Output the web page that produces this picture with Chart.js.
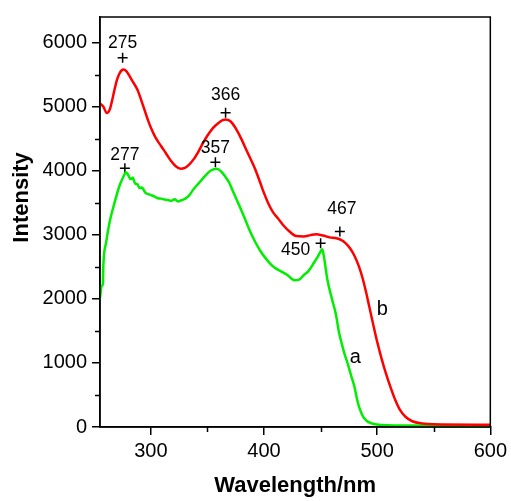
<!DOCTYPE html>
<html>
<head>
<meta charset="utf-8">
<script src="https://cdn.jsdelivr.net/npm/chart.js@4/dist/chart.umd.min.js"></script>
<style>
  html, body { margin: 0; padding: 0; background: #ffffff; }
  #wrap { width: 511px; height: 501px; position: relative; }
</style>
</head>
<body>
<div id="wrap"><canvas id="c"></canvas></div>
<script>
// ---- Data ----
// Curve a (green)
const wavelengthA = [255, 256.5, 257.5, 258, 260.5, 263.5, 268, 272.3, 275, 278, 280, 282, 284, 286, 288, 290, 292, 295, 297, 300, 303, 306, 309, 312, 315, 318, 321, 324, 327, 330, 334, 338, 342, 346, 350, 353, 358, 362, 366, 369, 372, 376, 380, 383, 387, 392, 397, 402, 406, 410, 415, 420, 424, 427, 431, 435, 439, 444, 447.5, 450, 451.5, 453, 456, 460, 463.5, 466, 468, 471, 474, 477, 480, 482, 484, 486.5, 488.5, 492, 497, 505, 520, 600];
const intensityA = [2017, 2200, 2230, 2540, 2890, 3200, 3510, 3770, 3880, 3975, 3930, 3870, 3890, 3800, 3790, 3730, 3740, 3660, 3640, 3620, 3600, 3570, 3565, 3550, 3545, 3530, 3555, 3520, 3540, 3560, 3620, 3720, 3800, 3880, 3960, 4004, 4030, 3990, 3900, 3820, 3700, 3540, 3380, 3255, 3080, 2895, 2740, 2620, 2540, 2480, 2430, 2380, 2320, 2290, 2300, 2370, 2430, 2560, 2660, 2740, 2775, 2650, 2300, 2000, 1760, 1500, 1347, 1150, 986, 800, 620, 450, 314, 200, 135, 80, 46, 30, 22, 20];
// Curve b (red)
const wavelengthB = [255, 258, 261, 263.5, 266, 268, 270, 272, 274, 276, 278, 280, 283, 288, 293, 297, 300, 304, 308.8, 313, 317.5, 322, 326.3, 330, 334, 338, 342, 346, 350, 355, 360, 363, 366, 369, 372, 375, 380, 385, 392, 396.4, 400, 404, 408, 412.4, 417, 422, 428.5, 435, 441, 446, 452, 458, 464, 468, 472, 476, 480, 484, 487, 490, 493, 496, 500, 504, 508, 512, 516, 520, 525, 531, 540, 550, 600];
const intensityB = [5050, 5000, 4900, 4950, 5120, 5280, 5420, 5510, 5565, 5580, 5560, 5510, 5420, 5267, 5020, 4810, 4670, 4520, 4390, 4280, 4160, 4070, 4030, 4045, 4100, 4185, 4300, 4430, 4550, 4670, 4750, 4785, 4800, 4785, 4740, 4660, 4494, 4300, 4030, 3824, 3650, 3480, 3350, 3255, 3150, 3060, 2980, 2975, 2995, 3008, 2990, 2960, 2945, 2920, 2870, 2790, 2670, 2500, 2330, 2120, 1880, 1640, 1330, 1060, 820, 610, 420, 270, 160, 90, 55, 42, 35];

// Peak markers (+) and their labels
const peakLabels = ['275', '366', '277', '357', '450', '467'];
const peakX = [275, 366, 277, 357, 450, 467];
const peakY = [5763, 4907, 4040, 4133, 2868, 3050];

// Curve names
const curveNames = ['a', 'b'];
const curveNameX = [480.7, 504.5];
const curveNameY = [1080, 1840];

// Axis ticks
const xTicks = [300, 400, 500, 600];
const yTicks = [0, 1000, 2000, 3000, 4000, 5000, 6000];
const xMinorTicks = [350, 450, 550];
const yMinorTicks = [500, 1500, 2500, 3500, 4500, 5500];

// Axis titles
const xTitle = 'Wavelength/nm';
const yTitle = 'Intensity';

// ---- Chart ----
const FONT = '"Liberation Sans", Arial, Helvetica, sans-serif';
const toPts = (xs, ys) => xs.map((x, i) => ({ x: x, y: ys[i] }));

const labelOffsets = [[0, -15], [0, -17], [0, -13], [0, -14], [-25, 7], [2, -22]];

const decorPlugin = {
  id: 'decor',
  afterDatasetsDraw(chart) {
    const { ctx, chartArea: a, scales: { x, y } } = chart;
    ctx.save();
    // frame
    ctx.strokeStyle = '#000';
    ctx.lineWidth = 1.5;
    ctx.strokeRect(a.left, a.top, a.right - a.left, a.bottom - a.top);
    // minor ticks
    ctx.beginPath();
    xMinorTicks.forEach(v => {
      const px = Math.round(x.getPixelForValue(v)) + 0.5;
      ctx.moveTo(px, a.bottom);
      ctx.lineTo(px, a.bottom + 5);
    });
    yMinorTicks.forEach(v => {
      const py = Math.round(y.getPixelForValue(v)) + 0.5;
      ctx.moveTo(a.left, py);
      ctx.lineTo(a.left - 5, py);
    });
    ctx.stroke();
    // peak labels
    ctx.fillStyle = '#000';
    ctx.font = '17.5px ' + FONT;
    ctx.textAlign = 'center';
    ctx.textBaseline = 'middle';
    peakLabels.forEach((t, i) => {
      const px = x.getPixelForValue(peakX[i]);
      const py = y.getPixelForValue(peakY[i]);
      ctx.fillText(t, px + labelOffsets[i][0], py + labelOffsets[i][1]);
    });
    // curve names
    ctx.font = '20px ' + FONT;
    curveNames.forEach((t, i) => {
      ctx.fillText(t, x.getPixelForValue(curveNameX[i]), y.getPixelForValue(curveNameY[i]));
    });
    // y axis title (placed slightly above the centre, as in the original)
    ctx.font = 'bold 22px ' + FONT;
    ctx.translate(22, a.top + (a.bottom - a.top) * 0.44);
    ctx.rotate(-Math.PI / 2);
    ctx.fillText(yTitle, 0, 0);
    ctx.restore();
  }
};

new Chart(document.getElementById('c'), {
  type: 'line',
  data: {
    datasets: [
      {
        label: 'b',
        data: toPts(wavelengthB, intensityB),
        borderColor: '#ff0000',
        borderWidth: 2.5,
        pointRadius: 0,
        cubicInterpolationMode: 'monotone',
        fill: false
      },
      {
        label: 'a',
        data: toPts(wavelengthA, intensityA),
        borderColor: '#00ee00',
        borderWidth: 2.5,
        pointRadius: 0,
        cubicInterpolationMode: 'monotone',
        fill: false
      },
      {
        type: 'scatter',
        label: 'peaks',
        data: toPts(peakX, peakY),
        pointStyle: 'cross',
        pointRadius: 5,
        borderColor: '#000',
        backgroundColor: '#000',
        borderWidth: 1.5,
        showLine: false
      }
    ]
  },
  options: {
    responsive: true,
    maintainAspectRatio: false,
    animation: false,
    devicePixelRatio: 1,
    layout: { padding: { left: 0, right: 17, top: 14, bottom: 0 } },
    plugins: { legend: { display: false }, tooltip: { enabled: false } },
    scales: {
      x: {
        type: 'linear',
        min: 255,
        max: 600,
        afterBuildTicks: s => { s.ticks = xTicks.map(v => ({ value: v })); },
        afterFit: s => { s.height = 74; },
        grid: { display: true, drawOnChartArea: false, tickLength: 8, color: '#000', lineWidth: 1.5 },
        border: { display: true, color: '#000', width: 1.5 },
        ticks: { color: '#000', font: { family: FONT, size: 20 }, padding: 4, maxRotation: 0, callback: v => String(v) },
        title: { display: true, text: xTitle, color: '#000', font: { family: FONT, size: 22, weight: 'bold' }, padding: { top: 0, bottom: 2 } }
      },
      y: {
        type: 'linear',
        min: 0,
        max: 6400,
        afterBuildTicks: s => { s.ticks = yTicks.map(v => ({ value: v })); },
        afterFit: s => { s.width = 100; },
        grid: { display: true, drawOnChartArea: false, tickLength: 8, color: '#000', lineWidth: 1.5 },
        border: { display: true, color: '#000', width: 1.5 },
        ticks: { color: '#000', font: { family: FONT, size: 20 }, padding: 5, callback: v => String(v) },
        title: { display: false }
      }
    }
  },
  plugins: [decorPlugin]
});
</script>
</body>
</html>
